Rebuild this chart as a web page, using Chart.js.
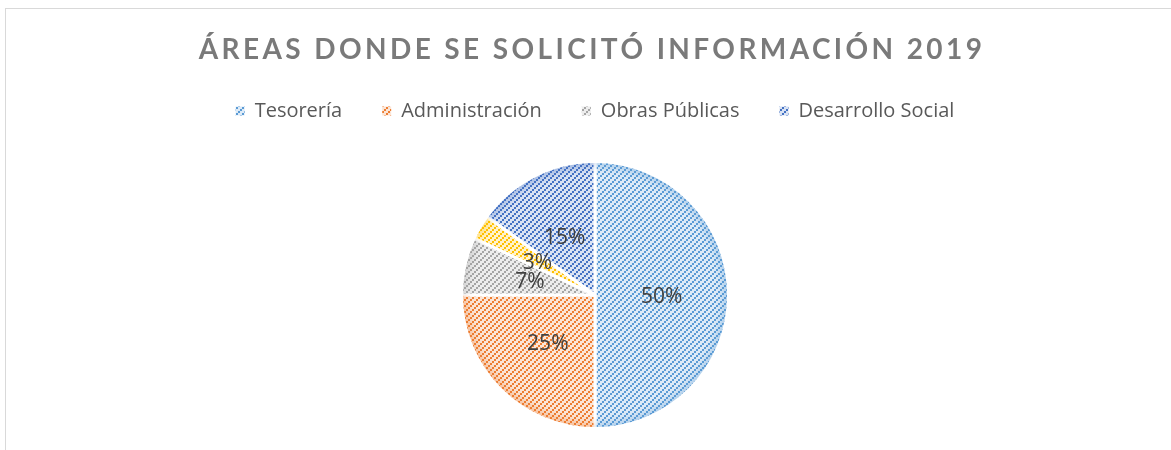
<!DOCTYPE html>
<html>
<head>
<meta charset="utf-8">
<title>Áreas donde se solicitó información 2019</title>
<script src="https://cdn.jsdelivr.net/npm/chart.js@4.4.1/dist/chart.umd.min.js"></script>
<style>
  html, body { margin: 0; padding: 0; background: #fff; overflow: hidden; }
  #frame {
    position: absolute; left: 5px; top: 8px;
    width: 1180px; height: 460px;
    border: 1px solid #d9d9d9; box-sizing: border-box;
  }
  #box { position: relative; width: 1178px; height: 458px; }
</style>
</head>
<body>
<div id="frame"><div id="box"><canvas id="areas-chart"></canvas></div></div>
<script>
const TITLE = "ÁREAS DONDE SE SOLICITÓ INFORMACIÓN 2019";
const areas = ["Tesorería", "Administración", "Obras Públicas", "", "Desarrollo Social"];
const shares = [50, 25, 7, 3, 15];
const lineColors = ["#5b9bd5", "#ed7d31", "#a5a5a5", "#ffc000", "#4472c4"];
const tintColors = ["#deebf7", "#fbe5d6", "#ededed", "#fff2cc", "#dae3f3"];

const canvas = document.getElementById("areas-chart");
const ctx = canvas.getContext("2d");

// small "/" hatch tile: 2px blocks stepping diagonally over a light tint
function hatch(line, tint) {
  const tile = document.createElement("canvas");
  tile.width = 6;
  tile.height = 6;
  const g = tile.getContext("2d");
  g.fillStyle = tint;
  g.fillRect(0, 0, 6, 6);
  g.fillStyle = line;
  g.fillRect(4, 0, 2, 2);
  g.fillRect(2, 2, 2, 2);
  g.fillRect(0, 4, 2, 2);
  return ctx.createPattern(tile, "repeat");
}

const fills = lineColors.map((c, i) => hatch(c, tintColors[i]));

function withAlpha(hex, a) {
  const n = parseInt(hex.slice(1), 16);
  return `rgba(${(n >> 16) & 255},${(n >> 8) & 255},${n & 255},${a})`;
}

// soft darker rim along each slice's outer edge, then the % labels
const sliceDecor = {
  id: "sliceDecor",
  afterDatasetsDraw(chart) {
    const c = chart.ctx;
    const arcs = chart.getDatasetMeta(0).data;
    arcs.forEach((arc, i) => {
      const { x, y, startAngle, endAngle, outerRadius } = arc.getProps(
        ["x", "y", "startAngle", "endAngle", "outerRadius"], true);
      const r = outerRadius - 1.5;
      c.save();
      c.beginPath();
      c.moveTo(x, y);
      c.arc(x, y, r, startAngle, endAngle);
      c.closePath();
      c.clip();
      c.filter = "blur(4px)";
      c.strokeStyle = withAlpha(lineColors[i], 0.45);
      c.lineWidth = 10;
      c.beginPath();
      c.arc(x, y, r + 2, startAngle, endAngle);
      c.stroke();
      c.restore();
    });

    c.save();
    c.font = "21px 'Open Sans'";
    c.fillStyle = "#404040";
    c.textAlign = "center";
    c.textBaseline = "middle";
    arcs.forEach((arc, i) => {
      const p = arc.tooltipPosition();
      c.fillText(shares[i] + "%", p.x, p.y + 2);
    });
    c.restore();
  },
  afterDraw(chart) {
    const c = chart.ctx;
    c.save();
    c.font = "bold 28px Lato";
    c.letterSpacing = "3.4px";
    c.fillStyle = "#7a7a7a";
    c.textAlign = "center";
    c.textBaseline = "middle";
    c.fillText(TITLE, chart.width / 2 - 3, 41);
    c.restore();
  },
};

new Chart(canvas, {
  type: "pie",
  data: {
    labels: areas,
    datasets: [{
      data: shares,
      backgroundColor: fills,
      borderColor: "#ffffff",
      borderWidth: 3,
      radius: 133.5,
    }],
  },
  options: {
    responsive: true,
    maintainAspectRatio: false,
    animation: false,
    layout: { padding: { top: 52, bottom: 8 } },
    plugins: {
      tooltip: { enabled: false },
      title: { display: false },
      legend: {
        position: "top",
        labels: {
          boxWidth: 9,
          boxHeight: 9,
          padding: 40,
          color: "#595959",
          font: { family: "Open Sans", size: 20 },
          filter: (item) => item.text !== "",
          generateLabels(chart) {
            return Chart.overrides.pie.plugins.legend.labels.generateLabels(chart)
              .map((item) => ({ ...item, lineWidth: 0, strokeStyle: "rgba(0,0,0,0)" }));
          },
        },
      },
    },
  },
  plugins: [sliceDecor],
});
</script>
</body>
</html>
